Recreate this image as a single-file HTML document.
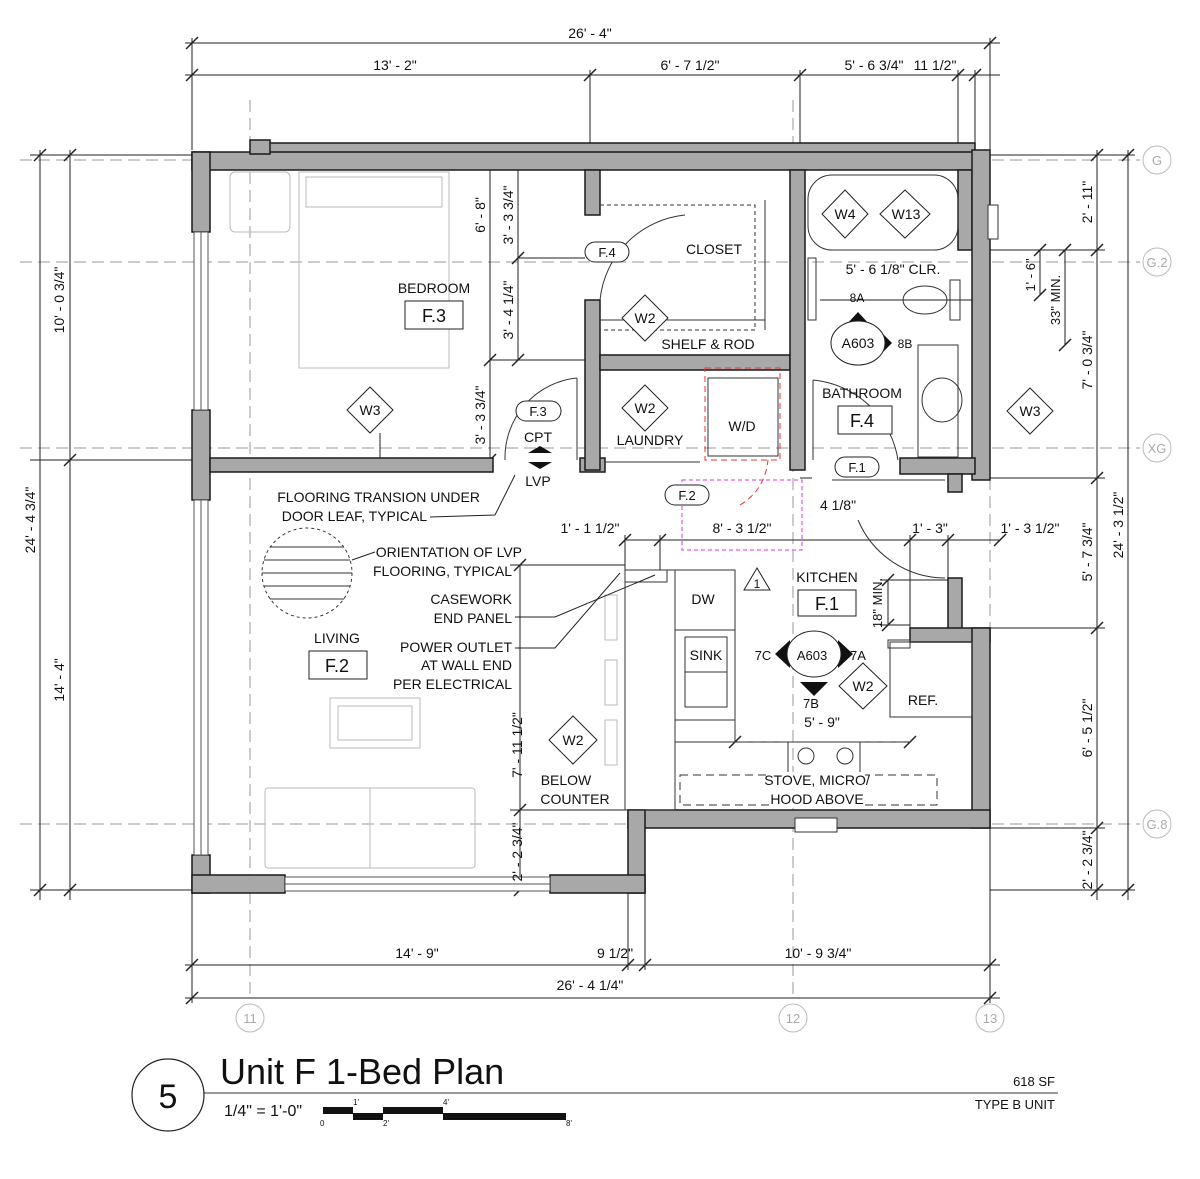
<!DOCTYPE html>
<html><head><meta charset="utf-8"><style>
html,body{margin:0;padding:0;background:#fff}
svg{display:block}
text{font-family:"Liberation Sans",sans-serif;fill:#111}
.w{fill:#a8a8a8;stroke:#1a1a1a;stroke-width:1.5}
.d{stroke:#222;stroke-width:1;fill:none}
.g{stroke:#999;stroke-width:1;stroke-dasharray:12 6;fill:none}
.f{stroke:#bbb;stroke-width:1;fill:none}
.t{font-size:14px}
</style></head><body>
<svg width="1200" height="1179" viewBox="0 0 1200 1179" xmlns="http://www.w3.org/2000/svg">
<g class="g">
<line x1="20" y1="160" x2="1140" y2="160"/>
<line x1="20" y1="262" x2="1140" y2="262"/>
<line x1="20" y1="448" x2="1140" y2="448"/>
<line x1="20" y1="824" x2="1140" y2="824"/>
<line x1="250" y1="100" x2="250" y2="1000"/>
<line x1="793" y1="100" x2="793" y2="1000"/>
<line x1="990" y1="100" x2="990" y2="1000"/>
</g>
<g fill="none" stroke="#bbb">
<circle cx="1157" cy="160" r="14"/><circle cx="1157" cy="262" r="14"/><circle cx="1157" cy="448" r="14"/><circle cx="1157" cy="824" r="14"/>
<circle cx="250" cy="1018" r="14"/><circle cx="793" cy="1018" r="14"/><circle cx="990" cy="1018" r="14"/>
</g>
<g font-size="13" text-anchor="middle">
<text x="1157" y="165" style="fill:#aaa">G</text><text x="1157" y="267" style="fill:#aaa">G.2</text><text x="1157" y="453" style="fill:#aaa">XG</text><text x="1157" y="829" style="fill:#aaa">G.8</text>
<text x="250" y="1023" style="fill:#aaa">11</text><text x="793" y="1023" style="fill:#aaa">12</text><text x="990" y="1023" style="fill:#aaa">13</text>
</g>
<g class="d">
<line x1="185" y1="43" x2="1000" y2="43"/>
<line x1="185" y1="75" x2="1000" y2="75"/>
<line x1="192" y1="38" x2="192" y2="150"/><line x1="990" y1="38" x2="990" y2="150"/>
<line x1="590" y1="70" x2="590" y2="150"/><line x1="800" y1="70" x2="800" y2="150"/><line x1="958" y1="70" x2="958" y2="150"/><line x1="975" y1="70" x2="975" y2="150"/>
<line x1="185" y1="965" x2="1000" y2="965"/>
<line x1="185" y1="998" x2="1000" y2="998"/>
<line x1="192" y1="893" x2="192" y2="1003"/><line x1="990" y1="828" x2="990" y2="1003"/><line x1="628" y1="893" x2="628" y2="970"/><line x1="645" y1="893" x2="645" y2="970"/>
<line x1="40" y1="150" x2="40" y2="900"/>
<line x1="70" y1="150" x2="70" y2="900"/>
<line x1="30" y1="155" x2="192" y2="155"/><line x1="30" y1="460" x2="192" y2="460"/><line x1="30" y1="890" x2="192" y2="890"/>
<line x1="1097" y1="150" x2="1097" y2="900"/>
<line x1="1128" y1="150" x2="1128" y2="900"/>
<line x1="975" y1="155" x2="1135" y2="155"/><line x1="975" y1="250" x2="1105" y2="250"/><line x1="975" y1="478" x2="1105" y2="478"/><line x1="990" y1="628" x2="1105" y2="628"/><line x1="990" y1="828" x2="1105" y2="828"/><line x1="990" y1="890" x2="1135" y2="890"/>
<line x1="1065" y1="250" x2="1065" y2="345"/><line x1="1040" y1="250" x2="1040" y2="295"/>
<line x1="490" y1="152" x2="490" y2="460"/><line x1="518" y1="152" x2="518" y2="360"/>
<line x1="490" y1="360" x2="590" y2="360"/><line x1="518" y1="258" x2="585" y2="258"/>
<line x1="520" y1="565" x2="520" y2="890"/><line x1="510" y1="565" x2="625" y2="565"/><line x1="510" y1="810" x2="625" y2="810"/>
<line x1="625" y1="540" x2="1000" y2="540"/>
<line x1="625" y1="535" x2="625" y2="570"/><line x1="660" y1="535" x2="660" y2="570"/><line x1="910" y1="535" x2="910" y2="640"/><line x1="948" y1="535" x2="948" y2="580"/>
<line x1="735" y1="742" x2="910" y2="742"/>
<line x1="888" y1="580" x2="888" y2="625"/><line x1="880" y1="580" x2="948" y2="580"/><line x1="880" y1="625" x2="910" y2="625"/>
<line x1="820" y1="300" x2="975" y2="300"/>
<line x1="800" y1="478" x2="812" y2="478"/>
</g>
<g stroke="#222" stroke-width="1.5">
<line x1="186" y1="49" x2="198" y2="37"/><line x1="984" y1="49" x2="996" y2="37"/>
<line x1="186" y1="81" x2="198" y2="69"/><line x1="584" y1="81" x2="596" y2="69"/><line x1="794" y1="81" x2="806" y2="69"/><line x1="952" y1="81" x2="964" y2="69"/><line x1="969" y1="81" x2="981" y2="69"/>
<line x1="186" y1="971" x2="198" y2="959"/><line x1="622" y1="971" x2="634" y2="959"/><line x1="639" y1="971" x2="651" y2="959"/><line x1="984" y1="971" x2="996" y2="959"/>
<line x1="186" y1="1004" x2="198" y2="992"/><line x1="984" y1="1004" x2="996" y2="992"/>
<line x1="34" y1="161" x2="46" y2="149"/><line x1="34" y1="896" x2="46" y2="884"/>
<line x1="64" y1="161" x2="76" y2="149"/><line x1="64" y1="466" x2="76" y2="454"/><line x1="64" y1="896" x2="76" y2="884"/>
<line x1="1091" y1="161" x2="1103" y2="149"/><line x1="1091" y1="256" x2="1103" y2="244"/><line x1="1091" y1="484" x2="1103" y2="472"/><line x1="1091" y1="634" x2="1103" y2="622"/><line x1="1091" y1="834" x2="1103" y2="822"/><line x1="1091" y1="896" x2="1103" y2="884"/>
<line x1="1122" y1="161" x2="1134" y2="149"/><line x1="1122" y1="896" x2="1134" y2="884"/>
<line x1="484" y1="158" x2="496" y2="146"/><line x1="484" y1="366" x2="496" y2="354"/><line x1="484" y1="466" x2="496" y2="454"/>
<line x1="512" y1="158" x2="524" y2="146"/><line x1="512" y1="264" x2="524" y2="252"/><line x1="512" y1="366" x2="524" y2="354"/>
<line x1="514" y1="571" x2="526" y2="559"/><line x1="514" y1="816" x2="526" y2="804"/><line x1="514" y1="896" x2="526" y2="884"/>
<line x1="619" y1="546" x2="631" y2="534"/><line x1="654" y1="546" x2="666" y2="534"/><line x1="904" y1="546" x2="916" y2="534"/><line x1="942" y1="546" x2="954" y2="534"/><line x1="994" y1="546" x2="1006" y2="534"/>
<line x1="729" y1="748" x2="741" y2="736"/><line x1="904" y1="748" x2="916" y2="736"/>
<line x1="882" y1="586" x2="894" y2="574"/><line x1="882" y1="631" x2="894" y2="619"/>
<line x1="1059" y1="256" x2="1071" y2="244"/><line x1="1059" y1="351" x2="1071" y2="339"/>
<line x1="1034" y1="256" x2="1046" y2="244"/><line x1="1034" y1="301" x2="1046" y2="289"/>
</g>
<g class="f">
<rect x="230" y="172" width="60" height="60" rx="5"/><rect x="306" y="177" width="136" height="30"/><rect x="299" y="172" width="150" height="196"/>
<rect x="265" y="788" width="210" height="80" rx="3"/><line x1="370" y1="788" x2="370" y2="868"/>
<rect x="330" y="698" width="90" height="50"/><rect x="338" y="706" width="74" height="34"/>
<rect x="605" y="595" width="12" height="45"/><rect x="605" y="660" width="12" height="45"/><rect x="605" y="720" width="12" height="45"/>
</g>
<rect class="w" x="265" y="143" width="710" height="10"/>
<rect class="w" x="192" y="152" width="783" height="18"/>
<rect class="w" x="250" y="140" width="20" height="14"/>
<rect class="w" x="192" y="152" width="18" height="80"/>
<rect class="w" x="192" y="410" width="18" height="90"/>
<rect class="w" x="192" y="855" width="18" height="38"/>
<g fill="#fff" stroke="#555"><rect x="194" y="232" width="14" height="178"/><rect x="194" y="500" width="14" height="355"/></g>
<g stroke="#555"><line x1="201" y1="232" x2="201" y2="410"/><line x1="201" y1="500" x2="201" y2="855"/></g>
<rect class="w" x="210" y="458" width="283" height="14"/>
<rect class="w" x="580" y="458" width="25" height="14"/>
<rect class="w" x="585" y="170" width="15" height="45"/>
<rect class="w" x="585" y="300" width="15" height="170"/>
<rect class="w" x="600" y="355" width="190" height="15"/>
<rect class="w" x="790" y="170" width="15" height="300"/>
<rect class="w" x="958" y="170" width="14" height="80"/>
<rect class="w" x="972" y="150" width="18" height="330"/>
<rect class="w" x="900" y="458" width="75" height="16"/>
<rect class="w" x="948" y="474" width="14" height="18"/>
<rect class="w" x="948" y="578" width="14" height="52"/>
<rect class="w" x="910" y="628" width="80" height="14"/>
<rect class="w" x="972" y="628" width="18" height="200"/>
<rect class="w" x="628" y="810" width="362" height="18"/>
<rect class="w" x="628" y="810" width="17" height="83"/>
<rect class="w" x="192" y="875" width="93" height="18"/>
<rect class="w" x="550" y="875" width="95" height="18"/>
<g stroke="#555" fill="#fff"><rect x="285" y="877" width="265" height="14"/><line x1="285" y1="884" x2="550" y2="884"/></g>
<rect x="795" y="818" width="42" height="14" fill="#fff" stroke="#333"/>
<rect x="988" y="205" width="10" height="34" fill="#fff" stroke="#333"/>
<g stroke="#333" fill="none">
<polyline points="600,205 755,205 755,330 600,330" stroke-dasharray="4 3"/>
<line x1="600" y1="320" x2="765" y2="320"/><line x1="765" y1="200" x2="765" y2="330"/>
<path d="M600,300 A95,95 0 0 1 685,215"/>
<rect x="708" y="378" width="70" height="78"/>
<path d="M505,460 A80,80 0 0 1 577,378"/><line x1="577" y1="378" x2="577" y2="460"/>
<line x1="605" y1="462" x2="700" y2="462"/>
<rect x="808" y="175" width="150" height="75" rx="24"/>
<path d="M813,380 L813,460 M813,380 A95,95 0 0 1 898,460"/>
<path d="M832,480 L945,480 M858,520 A95,95 0 0 0 945,578"/>
<rect x="808" y="258" width="8" height="62"/>
<ellipse cx="925" cy="300" rx="22" ry="14"/><rect x="950" y="280" width="10" height="40"/>
<rect x="918" y="345" width="40" height="112"/><ellipse cx="942" cy="400" rx="20" ry="22"/>
<rect x="625" y="570" width="50" height="240"/><rect x="625" y="570" width="42" height="12"/>
<rect x="675" y="570" width="60" height="172"/>
<rect x="675" y="630" width="60" height="90"/><rect x="685" y="637" width="42" height="35"/><rect x="685" y="672" width="42" height="35"/>
<rect x="890" y="642" width="82" height="75"/><rect x="888" y="640" width="22" height="8"/>
<rect x="788" y="742" width="72" height="52"/><circle cx="806" cy="756" r="8"/><circle cx="845" cy="756" r="8"/>
<rect x="680" y="775" width="257" height="30" stroke-dasharray="8 5"/>
<line x1="675" y1="742" x2="910" y2="742" stroke-dasharray="8 5"/>
</g>
<g stroke="#e33" fill="none" stroke-dasharray="6 4"><rect x="705" y="368" width="75" height="92"/><path d="M740,505 Q765,490 768,460"/></g>
<g stroke="#d3d" fill="none" stroke-dasharray="4 3"><rect x="682" y="480" width="120" height="70"/></g>
<circle cx="307" cy="573" r="45" fill="#fff" stroke="#333" stroke-dasharray="3 3"/>
<g stroke="#333"><line x1="264" y1="560" x2="350" y2="560"/><line x1="262" y1="573" x2="352" y2="573"/><line x1="264" y1="586" x2="350" y2="586"/><line x1="270" y1="547" x2="344" y2="547"/><line x1="270" y1="599" x2="344" y2="599"/></g>
<g stroke="#222" fill="none">
<line x1="352" y1="560" x2="375" y2="552"/>
<polyline points="430,517 495,515 515,475"/>
<polyline points="515,617 555,617 655,575"/>
<polyline points="515,648 555,648 620,573"/>
<line x1="380" y1="433" x2="380" y2="458"/>
</g>
<g fill="#fff" stroke="#222">
<polygon points="370,387 393,410 370,433 347,410"/>
<polygon points="645,295 668,318 645,341 622,318"/>
<polygon points="645,385 668,408 645,431 622,408"/>
<polygon points="845,190 868,214 845,238 822,214"/>
<polygon points="905,190 930,214 905,238 880,214"/>
<polygon points="1030,388 1053,411 1030,434 1007,411"/>
<polygon points="573,716 597,740 573,764 549,740"/>
<polygon points="863,663 887,686 863,709 839,686"/>
<polygon points="757,568 770,590 744,590"/>
</g>
<g fill="#111">
<polygon points="858,312 870,325 846,325"/><polygon points="880,331 892,343 880,355"/>
<polygon points="790,640 775,654 790,668"/><polygon points="838,640 853,654 838,668"/><polygon points="800,682 828,682 814,696"/>
<polygon points="540,446 552,453 528,453"/><polygon points="528,462 552,462 540,469"/>
</g>
<g fill="#fff" stroke="#222">
<ellipse cx="858" cy="343" rx="27" ry="22"/>
<ellipse cx="814" cy="654" rx="27" ry="23"/>
</g>
<g fill="#fff" stroke="#222">
<rect x="585" y="242" width="44" height="20" rx="10"/>
<rect x="516" y="401" width="45" height="20" rx="10"/>
<rect x="665" y="485" width="44" height="20" rx="10"/>
<rect x="835" y="457" width="44" height="20" rx="10"/>
<rect x="405" y="301" width="58" height="28"/>
<rect x="838" y="406" width="54" height="28"/>
<rect x="798" y="590" width="58" height="26"/>
<rect x="309" y="651" width="58" height="28"/>
</g>
<rect x="770" y="772" width="95" height="36" fill="#fff"/>
<g class="t" text-anchor="middle">
<text x="590" y="38">26' - 4"</text>
<text x="395" y="70">13' - 2"</text><text x="690" y="70">6' - 7 1/2"</text><text x="874" y="70">5' - 6 3/4"</text><text x="935" y="70">11 1/2"</text>
<text x="417" y="958">14' - 9"</text><text x="615" y="958">9 1/2"</text><text x="818" y="958">10' - 9 3/4"</text><text x="590" y="990">26' - 4 1/4"</text>
<text x="434" y="293">BEDROOM</text><text x="434" y="322" font-size="18">F.3</text>
<text x="370" y="415">W3</text><text x="645" y="323">W2</text><text x="645" y="413">W2</text>
<text x="845" y="219">W4</text><text x="906" y="219">W13</text><text x="1030" y="416">W3</text>
<text x="573" y="745">W2</text><text x="863" y="691">W2</text><text x="757" y="588" font-size="12">1</text>
<text x="714" y="254">CLOSET</text><text x="708" y="349">SHELF &amp; ROD</text><text x="650" y="445">LAUNDRY</text>
<text x="742" y="431">W/D</text>
<text x="607" y="257" font-size="13">F.4</text><text x="538" y="416" font-size="13">F.3</text><text x="687" y="500" font-size="13">F.2</text><text x="857" y="472" font-size="13">F.1</text>
<text x="538" y="442">CPT</text><text x="538" y="486">LVP</text>
<text x="862" y="398">BATHROOM</text><text x="862" y="427" font-size="18">F.4</text>
<text x="857" y="302" font-size="12">8A</text><text x="858" y="348">A603</text><text x="905" y="348" font-size="12">8B</text>
<text x="893" y="274">5' - 6 1/8" CLR.</text>
<text x="838" y="510">4 1/8"</text>
<text x="742" y="533">8' - 3 1/2"</text>
<text x="590" y="533">1' - 1 1/2"</text><text x="930" y="533">1' - 3"</text><text x="1030" y="533">1' - 3 1/2"</text>
<text x="827" y="582">KITCHEN</text><text x="827" y="610" font-size="18">F.1</text>
<text x="703" y="604">DW</text><text x="706" y="660">SINK</text>
<text x="763" y="660" font-size="13">7C</text><text x="812" y="660" font-size="13">A603</text><text x="858" y="660" font-size="13">7A</text><text x="811" y="708" font-size="13">7B</text>
<text x="822" y="727">5' - 9"</text>
<text x="923" y="705">REF.</text>
<text x="817" y="785">STOVE, MICRO/</text><text x="817" y="804">HOOD ABOVE</text>
<text x="566" y="785">BELOW</text><text x="575" y="804">COUNTER</text>
<text x="337" y="643">LIVING</text><text x="337" y="672" font-size="18">F.2</text>
</g>
<g class="t" text-anchor="end">
<text x="480" y="502">FLOORING TRANSION UNDER</text><text x="427" y="521">DOOR LEAF, TYPICAL</text>
<text x="522" y="557">ORIENTATION OF LVP</text><text x="512" y="576">FLOORING, TYPICAL</text>
<text x="512" y="604">CASEWORK</text><text x="512" y="623">END PANEL</text>
<text x="512" y="652">POWER OUTLET</text><text x="512" y="670">AT WALL END</text><text x="512" y="689">PER ELECTRICAL</text>
</g>
<g class="t" text-anchor="middle">
<text transform="translate(64,300) rotate(-90)">10' - 0 3/4"</text>
<text transform="translate(35,520) rotate(-90)">24' - 4 3/4"</text>
<text transform="translate(64,680) rotate(-90)">14' - 4"</text>
<text transform="translate(485,215) rotate(-90)">6' - 8"</text>
<text transform="translate(513,215) rotate(-90)">3' - 3 3/4"</text>
<text transform="translate(513,310) rotate(-90)">3' - 4 1/4"</text>
<text transform="translate(485,415) rotate(-90)">3' - 3 3/4"</text>
<text transform="translate(522,745) rotate(-90)">7' - 11 1/2"</text>
<text transform="translate(522,852) rotate(-90)">2' - 2 3/4"</text>
<text transform="translate(882,603) rotate(-90)" font-size="13">18" MIN.</text>
<text transform="translate(1092,202) rotate(-90)">2' - 11"</text>
<text transform="translate(1092,360) rotate(-90)">7' - 0 3/4"</text>
<text transform="translate(1092,552) rotate(-90)">5' - 7 3/4"</text>
<text transform="translate(1092,728) rotate(-90)">6' - 5 1/2"</text>
<text transform="translate(1092,860) rotate(-90)">2' - 2 3/4"</text>
<text transform="translate(1123,525) rotate(-90)">24' - 3 1/2"</text>
<text transform="translate(1035,275) rotate(-90)" font-size="13">1' - 6"</text>
<text transform="translate(1060,300) rotate(-90)" font-size="13">33" MIN.</text>
</g>
<circle cx="168" cy="1095" r="36" fill="#fff" stroke="#222" stroke-width="1.2"/>
<text x="168" y="1108" font-size="34" text-anchor="middle">5</text>
<line x1="204" y1="1093" x2="1058" y2="1093" stroke="#333"/>
<text x="220" y="1084" font-size="36">Unit F 1-Bed Plan</text>
<text x="224" y="1116" font-size="16">1/4" = 1'-0"</text>
<g fill="#111"><rect x="323" y="1107" width="30" height="7"/><rect x="353" y="1113" width="30" height="7"/><rect x="383" y="1107" width="60" height="7"/><rect x="443" y="1113" width="123" height="7"/></g>
<g font-size="8"><text x="320" y="1126">0</text><text x="353" y="1105">1'</text><text x="383" y="1126">2'</text><text x="443" y="1105">4'</text><text x="566" y="1126">8'</text></g>
<text x="1055" y="1086" font-size="13" text-anchor="end">618 SF</text>
<text x="1055" y="1109" font-size="13" text-anchor="end">TYPE B UNIT</text>
</svg>
</body></html>
